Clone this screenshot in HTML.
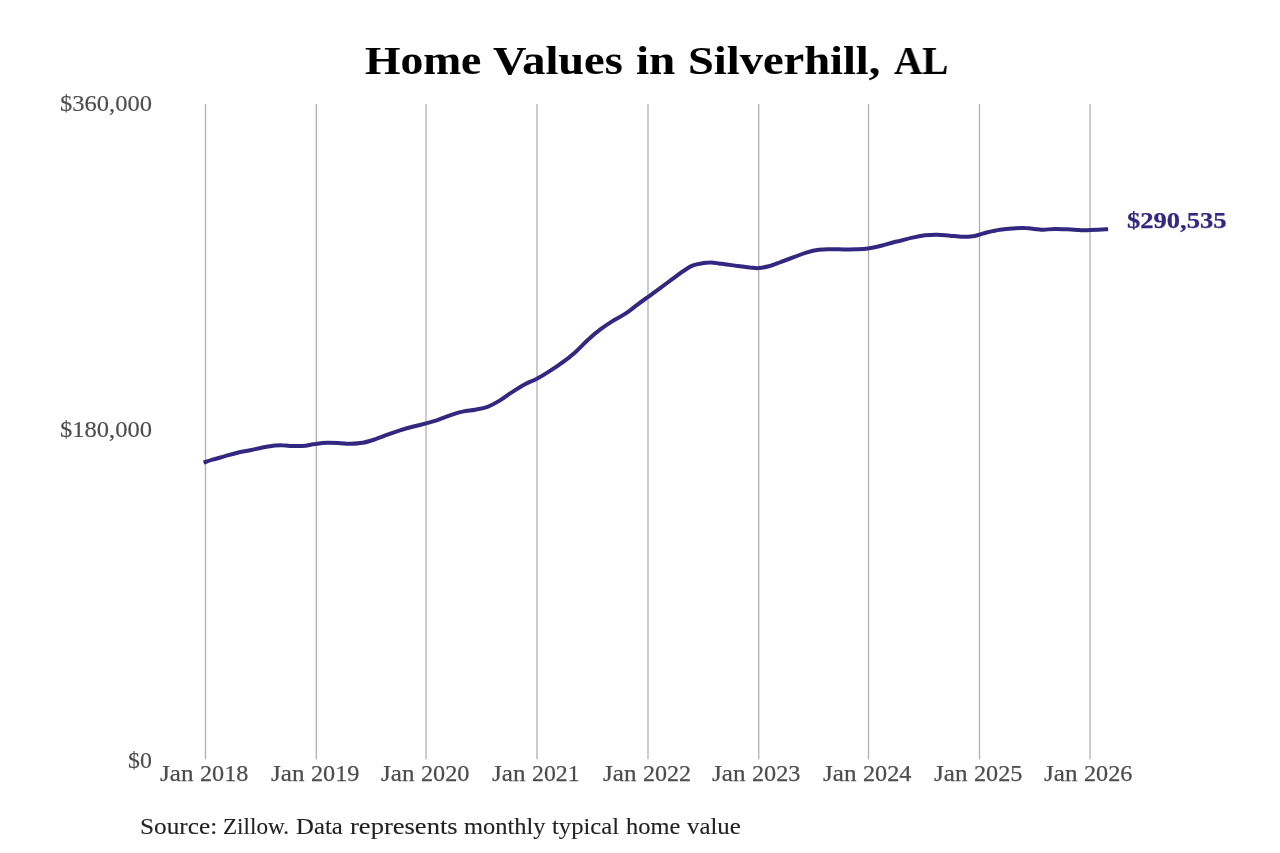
<!DOCTYPE html>
<html lang="en">
<head>
<meta charset="utf-8">
<title>Home Values in Silverhill, AL</title>
<style>
html,body{margin:0;padding:0;background:#ffffff;}
body{width:1280px;height:853px;position:relative;overflow:hidden;font-family:"Liberation Serif",serif;}
svg{position:absolute;left:0;top:0;}
.t{position:absolute;white-space:nowrap;line-height:1;transform-origin:0 0;will-change:transform;filter:blur(0.35px);}
.ln{filter:blur(0.3px);}
.title{-webkit-text-stroke:0.1px #000000;}
.y{-webkit-text-stroke:0.16px #4d4d4d;}
.x{-webkit-text-stroke:0.25px #4d4d4d;}
.src{-webkit-text-stroke:0.1px #222222;}
.end{-webkit-text-stroke:0.25px #32287f;}
</style>
</head>
<body>
<svg width="1280" height="853" viewBox="0 0 1280 853">
<g stroke="#b0b0b0" stroke-width="1.30" fill="none"><line x1="205.5" y1="104.0" x2="205.5" y2="759.2"/><line x1="316.3" y1="104.0" x2="316.3" y2="759.2"/><line x1="426.0" y1="104.0" x2="426.0" y2="759.2"/><line x1="537.0" y1="104.0" x2="537.0" y2="759.2"/><line x1="648.0" y1="104.0" x2="648.0" y2="759.2"/><line x1="758.7" y1="104.0" x2="758.7" y2="759.2"/><line x1="868.5" y1="104.0" x2="868.5" y2="759.2"/><line x1="979.5" y1="104.0" x2="979.5" y2="759.2"/><line x1="1090.0" y1="104.0" x2="1090.0" y2="759.2"/></g>
<path class="ln" d="M205.5 462.0C206.7 461.6 209.2 460.7 212.5 459.7C215.8 458.7 220.8 457.4 225.0 456.2C229.2 455.0 233.3 453.7 237.5 452.7C241.7 451.7 245.8 451.2 250.0 450.3C254.2 449.4 258.3 448.3 262.5 447.5C266.7 446.7 271.8 446.0 275.0 445.6C278.2 445.2 279.5 445.1 282.0 445.2C284.5 445.2 286.6 445.8 290.0 445.9C293.4 446.0 298.3 446.3 302.5 446.0C306.7 445.7 310.8 444.6 315.0 444.1C319.2 443.5 323.3 442.9 327.5 442.8C331.7 442.7 336.2 443.0 340.0 443.2C343.8 443.4 346.2 443.9 350.0 443.8C353.8 443.7 358.3 443.6 362.5 442.8C366.7 442.1 370.8 440.7 375.0 439.3C379.2 437.9 383.3 436.2 387.5 434.7C391.7 433.2 395.8 431.6 400.0 430.3C404.2 429.0 408.2 427.9 412.5 426.8C416.8 425.7 421.8 424.5 426.0 423.4C430.2 422.3 433.5 421.4 437.5 420.1C441.5 418.7 445.8 416.7 450.0 415.3C454.2 413.9 458.3 412.5 462.5 411.6C466.7 410.6 470.8 410.5 475.0 409.7C479.2 408.9 483.3 408.4 487.5 406.8C491.7 405.2 495.8 402.9 500.0 400.4C504.2 397.9 508.3 394.5 512.5 391.9C516.7 389.2 520.9 386.5 525.0 384.3C529.1 382.1 532.7 380.9 536.9 378.7C541.1 376.5 545.7 373.7 550.0 370.9C554.3 368.2 558.3 365.5 562.5 362.4C566.7 359.4 570.8 356.2 575.0 352.4C579.2 348.7 583.3 344.0 587.5 340.2C591.7 336.4 595.8 332.9 600.0 329.7C604.2 326.5 608.3 323.7 612.5 321.1C616.7 318.5 620.8 316.7 625.0 313.9C629.2 311.1 633.7 307.4 637.5 304.6C641.3 301.7 643.6 300.1 647.8 297.1C651.9 294.0 658.0 289.7 662.5 286.4C667.0 283.1 670.8 280.1 675.0 277.1C679.2 274.0 684.4 270.3 687.5 268.3C690.6 266.3 691.7 266.0 693.8 265.2C695.8 264.4 697.3 264.1 700.0 263.7C702.7 263.3 706.9 262.6 710.0 262.6C713.1 262.5 716.2 263.1 718.8 263.4C721.2 263.7 721.9 263.9 725.0 264.3C728.1 264.7 733.3 265.4 737.5 265.9C741.7 266.4 746.5 267.2 750.0 267.6C753.5 267.9 755.4 268.3 758.5 268.1C761.6 267.8 765.0 267.3 768.8 266.3C772.5 265.3 777.1 263.3 781.2 261.8C785.4 260.3 789.6 258.7 793.8 257.2C797.9 255.7 802.1 253.8 806.2 252.6C810.4 251.3 814.6 250.2 818.8 249.7C822.9 249.2 827.1 249.4 831.2 249.3C835.4 249.2 839.6 249.4 843.8 249.4C847.9 249.4 852.2 249.5 856.2 249.3C860.3 249.1 863.9 249.0 868.1 248.4C872.3 247.8 877.0 246.7 881.2 245.7C885.5 244.7 890.6 243.0 893.8 242.2C896.9 241.4 896.9 241.7 900.0 240.9C903.1 240.1 908.3 238.5 912.5 237.6C916.7 236.6 920.8 235.8 925.0 235.3C929.2 234.8 933.3 234.6 937.5 234.7C941.7 234.8 945.8 235.4 950.0 235.7C954.2 236.1 958.8 236.7 962.5 236.8C966.2 236.9 969.7 236.7 972.5 236.3C975.3 236.0 976.6 235.4 979.1 234.7C981.6 234.0 984.0 233.0 987.5 232.2C991.0 231.4 995.8 230.3 1000.0 229.7C1004.2 229.1 1008.3 228.7 1012.5 228.4C1016.7 228.1 1020.8 227.9 1025.0 228.1C1029.2 228.2 1034.4 229.0 1037.5 229.3C1040.6 229.6 1040.7 229.8 1043.8 229.7C1046.8 229.6 1051.0 228.9 1055.6 228.9C1060.2 228.9 1066.6 229.3 1071.2 229.5C1075.9 229.7 1080.6 230.2 1083.8 230.3C1086.9 230.4 1086.6 230.2 1090.3 230.0C1094.0 229.8 1103.5 229.4 1106.1 229.3" fill="none" stroke="#32287f" stroke-width="4.00" stroke-linecap="square" stroke-linejoin="round"/>
</svg>
<div class="t title" style="left:364.66px;top:40.60px;font-size:39.88px;transform:scaleX(1.1420);color:#000000;font-weight:bold;">Home</div>
<div class="t title" style="left:493.38px;top:40.60px;font-size:39.88px;transform:scaleX(1.1630);color:#000000;font-weight:bold;">Values</div>
<div class="t title" style="left:636.39px;top:40.60px;font-size:39.88px;transform:scaleX(1.1789);color:#000000;font-weight:bold;">in</div>
<div class="t title" style="left:687.92px;top:40.60px;font-size:39.88px;transform:scaleX(1.1653);color:#000000;font-weight:bold;">Silverhill,</div>
<div class="t title" style="left:893.63px;top:40.60px;font-size:39.88px;transform:scaleX(0.9811);color:#000000;font-weight:bold;">AL</div>
<div class="t y" style="left:59.89px;top:91.86px;font-size:23.81px;transform:scaleX(1.0310);color:#4d4d4d;">$360,000</div>
<div class="t y" style="left:59.89px;top:418.26px;font-size:23.81px;transform:scaleX(1.0310);color:#4d4d4d;">$180,000</div>
<div class="t y" style="left:128.21px;top:748.56px;font-size:23.81px;transform:scaleX(0.9967);color:#4d4d4d;">$0</div>
<div class="t x" style="left:160.21px;top:762.26px;font-size:23.81px;transform:scaleX(1.0534);color:#4d4d4d;">Jan</div>
<div class="t x" style="left:200.41px;top:762.26px;font-size:23.81px;transform:scaleX(1.0184);color:#4d4d4d;">2018</div>
<div class="t x" style="left:271.21px;top:762.26px;font-size:23.81px;transform:scaleX(1.0534);color:#4d4d4d;">Jan</div>
<div class="t x" style="left:311.41px;top:762.26px;font-size:23.81px;transform:scaleX(1.0184);color:#4d4d4d;">2019</div>
<div class="t x" style="left:380.61px;top:762.26px;font-size:23.81px;transform:scaleX(1.0534);color:#4d4d4d;">Jan</div>
<div class="t x" style="left:420.81px;top:762.26px;font-size:23.81px;transform:scaleX(1.0184);color:#4d4d4d;">2020</div>
<div class="t x" style="left:491.81px;top:762.26px;font-size:23.81px;transform:scaleX(1.0534);color:#4d4d4d;">Jan</div>
<div class="t x" style="left:532.02px;top:762.26px;font-size:23.81px;transform:scaleX(0.9973);color:#4d4d4d;">2021</div>
<div class="t x" style="left:602.71px;top:762.26px;font-size:23.81px;transform:scaleX(1.0534);color:#4d4d4d;">Jan</div>
<div class="t x" style="left:642.91px;top:762.26px;font-size:23.81px;transform:scaleX(1.0120);color:#4d4d4d;">2022</div>
<div class="t x" style="left:711.81px;top:762.26px;font-size:23.81px;transform:scaleX(1.0534);color:#4d4d4d;">Jan</div>
<div class="t x" style="left:752.01px;top:762.26px;font-size:23.81px;transform:scaleX(1.0184);color:#4d4d4d;">2023</div>
<div class="t x" style="left:823.01px;top:762.26px;font-size:23.81px;transform:scaleX(1.0534);color:#4d4d4d;">Jan</div>
<div class="t x" style="left:863.21px;top:762.26px;font-size:23.81px;transform:scaleX(1.0175);color:#4d4d4d;">2024</div>
<div class="t x" style="left:933.71px;top:762.26px;font-size:23.81px;transform:scaleX(1.0534);color:#4d4d4d;">Jan</div>
<div class="t x" style="left:973.91px;top:762.26px;font-size:23.81px;transform:scaleX(1.0184);color:#4d4d4d;">2025</div>
<div class="t x" style="left:1043.71px;top:762.26px;font-size:23.81px;transform:scaleX(1.0534);color:#4d4d4d;">Jan</div>
<div class="t x" style="left:1083.91px;top:762.26px;font-size:23.81px;transform:scaleX(1.0175);color:#4d4d4d;">2026</div>
<div class="t end" style="left:1126.97px;top:209.06px;font-size:23.81px;transform:scaleX(1.1148);color:#32287f;font-weight:bold;">$290,535</div>
<div class="t src" style="left:140.27px;top:816.02px;font-size:22.19px;transform:scaleX(1.1386);color:#222222;">Source:</div>
<div class="t src" style="left:223.44px;top:816.02px;font-size:22.19px;transform:scaleX(1.0418);color:#222222;">Zillow.</div>
<div class="t src" style="left:296.41px;top:816.02px;font-size:22.19px;transform:scaleX(1.1165);color:#222222;">Data</div>
<div class="t src" style="left:349.89px;top:816.02px;font-size:22.19px;transform:scaleX(1.1968);color:#222222;">represents</div>
<div class="t src" style="left:464.18px;top:816.02px;font-size:22.19px;transform:scaleX(1.1019);color:#222222;">monthly</div>
<div class="t src" style="left:552.35px;top:816.02px;font-size:22.19px;transform:scaleX(1.1098);color:#222222;">typical</div>
<div class="t src" style="left:626.44px;top:816.02px;font-size:22.19px;transform:scaleX(1.1009);color:#222222;">home</div>
<div class="t src" style="left:687.07px;top:816.02px;font-size:22.19px;transform:scaleX(1.1204);color:#222222;">value</div>
</body>
</html>
